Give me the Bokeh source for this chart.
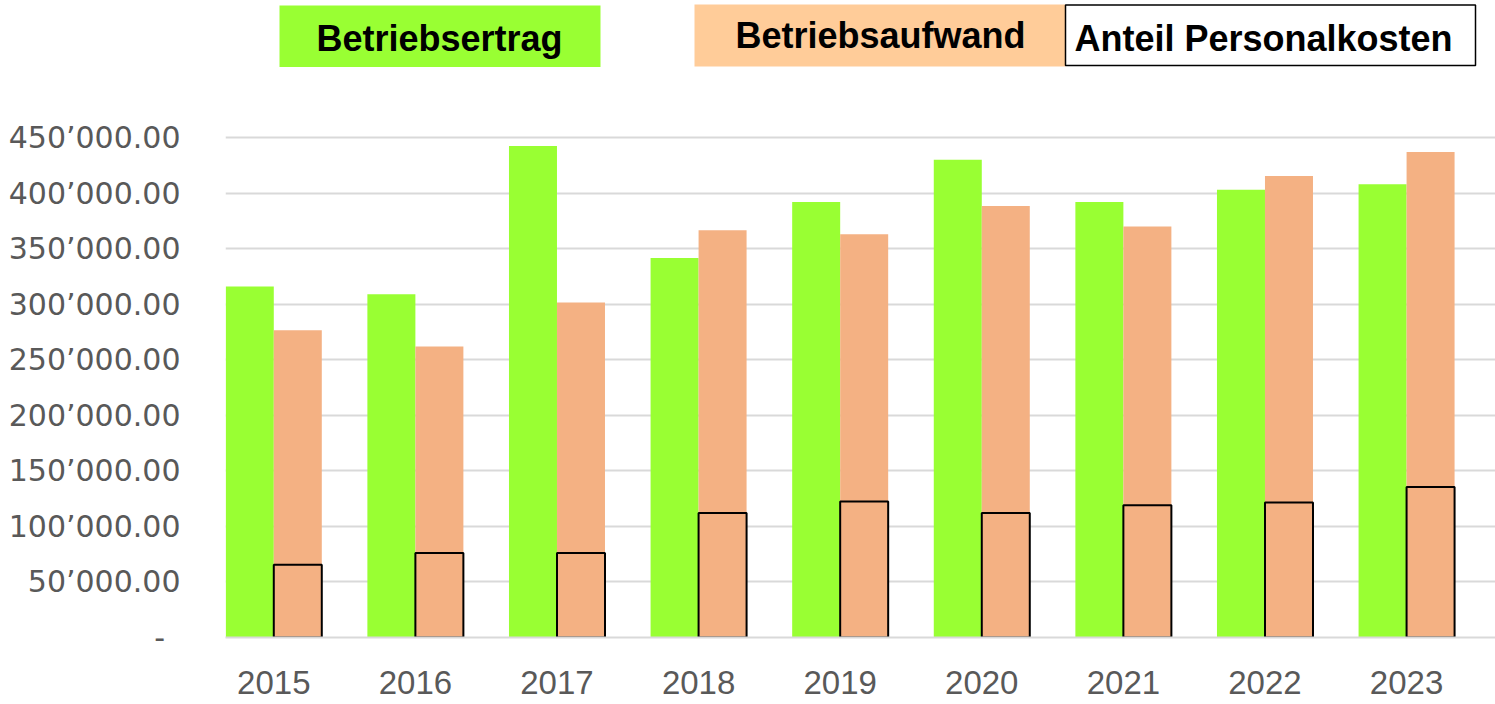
from bokeh.plotting import figure
from bokeh.models import ColumnDataSource, Range1d, FixedTicker
from bokeh.core.properties import value
from bokeh.transform import dodge
from bokeh.embed import file_html
from bokeh.resources import INLINE

# ---- data ----
years = ["2015", "2016", "2017", "2018", "2019", "2020", "2021", "2022", "2023"]
betriebsertrag = [316000, 309000, 442500, 341500, 392000, 430000, 392000, 403000, 408000]
betriebsaufwand = [276500, 262000, 301500, 366500, 363000, 388500, 370000, 415500, 437000]
personalkosten = [65500, 76000, 76000, 112000, 122500, 112000, 119000, 121500, 135500]

y_ticks = [0, 50000, 100000, 150000, 200000, 250000, 300000, 350000, 400000, 450000]
y_tick_labels = ["-\u00a0\u2009", "50\u2019000.00", "100\u2019000.00", "150\u2019000.00",
                 "200\u2019000.00", "250\u2019000.00", "300\u2019000.00", "350\u2019000.00",
                 "400\u2019000.00", "450\u2019000.00"]

legend_names = ["Betriebsertrag", "Betriebsaufwand", "Anteil Personalkosten"]

# ---- styles ----
GREEN = "#99ff33"
PEACH = "#f4b183"
PEACH_LEGEND = "#ffcc99"
GRID = "#d9d9d9"
LABEL = "#595959"

W, H = 1495, 704
FRAME_LEFT, FRAME_BOTTOM = 225, 637

x_idx = list(range(len(years)))
src = ColumnDataSource(dict(x=x_idx, year=years, ertrag=betriebsertrag,
                            aufwand=betriebsaufwand, personal=personalkosten))

x_range = Range1d(-0.341, 8.628)
y_range = Range1d(0, 573400)   # frame reaches canvas top so the legend header fits inside

p = figure(width=W, height=H, x_range=x_range, y_range=y_range,
           output_backend="svg", toolbar_location=None,
           min_border_left=FRAME_LEFT, min_border_right=0, min_border_top=0,
           min_border_bottom=H - FRAME_BOTTOM)
p.outline_line_color = None
p.background_fill_color = "white"
p.border_fill_color = "white"

# pixel-space ranges for the header legend
p.extra_x_ranges = {"px": Range1d(FRAME_LEFT, W)}
p.extra_y_ranges = {"px": Range1d(FRAME_BOTTOM, 0)}

bw = 0.339
off = 0.1695
p.vbar(x=dodge("x", -off, range=x_range), top="ertrag", width=bw, source=src,
       fill_color=GREEN, line_color=None)
p.vbar(x=dodge("x", off, range=x_range), top="aufwand", width=bw, source=src,
       fill_color=PEACH, line_color=None)
p.vbar(x=dodge("x", off, range=x_range), top="personal", width=bw, source=src,
       fill_color=PEACH, line_color="black", line_width=2)

# axes
p.yaxis.ticker = FixedTicker(ticks=y_ticks)
p.yaxis.major_label_overrides = dict(zip(y_ticks, y_tick_labels))
p.yaxis.axis_line_color = None
p.yaxis.major_tick_line_color = None
p.yaxis.minor_tick_line_color = None
p.yaxis.major_tick_out = 0
p.yaxis.major_tick_in = 0
p.yaxis.major_label_standoff = 45
p.yaxis.major_label_text_font = "DejaVu Sans"
p.yaxis.major_label_text_font_size = "30px"
p.yaxis.major_label_text_color = LABEL

p.xaxis.ticker = FixedTicker(ticks=x_idx)
p.xaxis.major_label_overrides = dict(zip(x_idx, years))
p.xaxis.axis_line_color = GRID
p.xaxis.axis_line_width = 2
p.xaxis.major_tick_line_color = None
p.xaxis.minor_tick_line_color = None
p.xaxis.major_tick_out = 0
p.xaxis.major_tick_in = 0
p.xaxis.major_label_standoff = 33
p.xaxis.major_label_text_font = "Liberation Sans"
p.xaxis.major_label_text_font_size = "33px"
p.xaxis.major_label_text_color = LABEL

p.xgrid.grid_line_color = None
p.ygrid.grid_line_color = GRID
p.ygrid.grid_line_width = 2

# header legend boxes (pixel coordinates of the header)
leg_left = [279, 694, 1065]
leg_right = [600, 1065, 1475]
leg_top = [5, 4, 4.5]
leg_bottom = [66.5, 66, 65]
leg_fill = [GREEN, PEACH_LEGEND, "white"]
leg_line = [None, None, "black"]
for l, r, t, b, fc, lc in zip(leg_left, leg_right, leg_top, leg_bottom, leg_fill, leg_line):
    p.quad(left=[l], right=[r], top=[t], bottom=[b], fill_color=fc,
           line_color=lc, line_width=1.5, x_range_name="px", y_range_name="px")

leg_tx = [439, 880, 1263]
leg_ty = [38, 35, 38]
p.text(x=leg_tx, y=leg_ty, text=legend_names, x_range_name="px", y_range_name="px",
       text_align="center", text_baseline="alphabetic",
       text_font=value("Liberation Sans"), text_font_style="bold",
       text_font_size="36px", text_color="black")

open("out.html", "w").write(file_html(p, INLINE))
